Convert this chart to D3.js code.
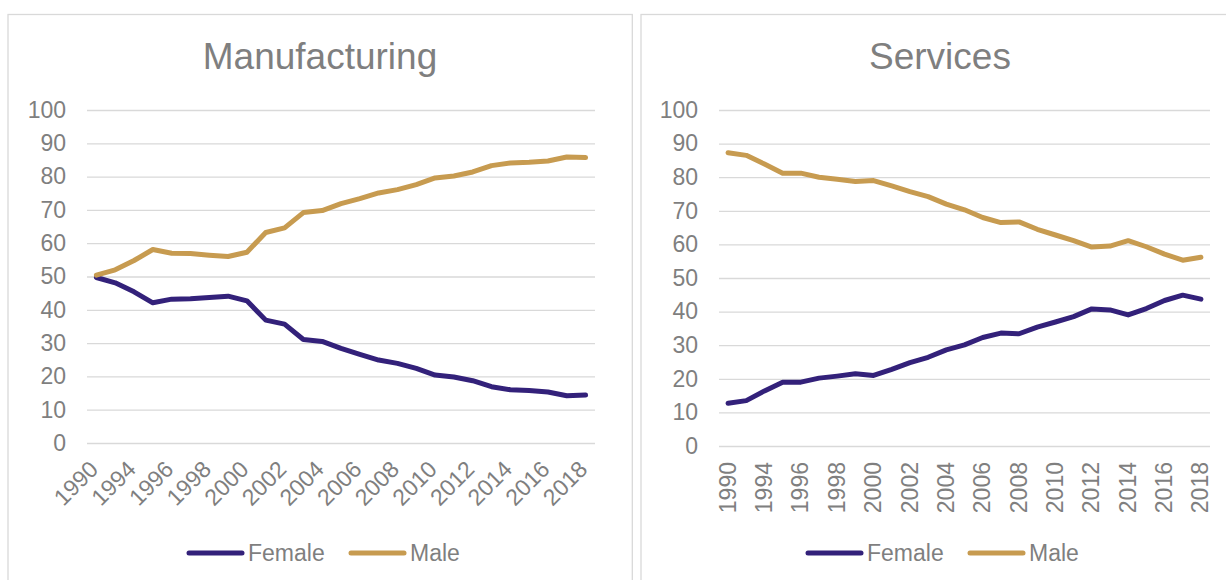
<!DOCTYPE html>
<html>
<head>
  <meta charset="utf-8">
  <title>Manufacturing and Services by gender</title>
  <style>
    body { margin: 0; background: #fff; }
    svg { display: block; font-family: "Liberation Sans", Arial, sans-serif; }
  </style>
</head>
<body>
  <svg id="canvas" width="1226" height="580"></svg>
  <script src="https://d3js.org/d3.v7.min.js"></script>
  <script>
    // categories (the second point has no visible label)
    const years = ["1990", "1992", "1994", "1995", "1996", "1997", "1998", "1999", "2000", "2001",
      "2002", "2003", "2004", "2005", "2006", "2007", "2008", "2009", "2010", "2011",
      "2012", "2013", "2014", "2015", "2016", "2017", "2018"];

    const mfgFemale = [49.7, 48.1, 45.4, 42.1, 43.2, 43.3, 43.7, 44.1, 42.7, 36.9,
      35.7, 31.1, 30.5, 28.4, 26.6, 24.9, 23.9, 22.4, 20.4, 19.8,
      18.7, 16.9, 16.0, 15.8, 15.3, 14.2, 14.4];
    const mfgMale = [50.4, 52.0, 54.8, 58.1, 57.0, 56.9, 56.4, 56.0, 57.3, 63.2,
      64.6, 69.2, 69.8, 71.9, 73.4, 75.1, 76.1, 77.6, 79.6, 80.2,
      81.4, 83.3, 84.1, 84.3, 84.7, 85.9, 85.7];

    const svcFemale = [12.7, 13.5, 16.4, 19.0, 19.0, 20.2, 20.8, 21.5, 21.0, 22.8,
      24.8, 26.4, 28.6, 30.1, 32.3, 33.6, 33.4, 35.4, 36.9, 38.5,
      40.8, 40.5, 39.0, 40.9, 43.3, 44.9, 43.7];
    const svcMale = [87.3, 86.5, 83.9, 81.2, 81.2, 80.0, 79.4, 78.7, 79.0, 77.4,
      75.7, 74.2, 72.0, 70.3, 68.0, 66.5, 66.7, 64.5, 62.8, 61.1,
      59.2, 59.5, 61.1, 59.3, 57.1, 55.3, 56.2];

    const yTicks = [0, 10, 20, 30, 40, 50, 60, 70, 80, 90, 100];
    const seriesNames = ["Female", "Male"];
    const seriesColors = ["#33217a", "#c79b50"];

    const textGray = "#7f7f7f";
    const gridGray = "#d9d9d9";

    const svg = d3.select("#canvas");

    const drawPanel = (p) => {
      const g = svg.append("g");

      g.append("rect")
        .attr("x", p.box[0]).attr("y", p.box[1])
        .attr("width", p.box[2]).attr("height", p.box[3])
        .attr("fill", "#fff").attr("stroke", gridGray).attr("stroke-width", 1.3);

      g.append("text")
        .attr("x", p.titleX).attr("y", 68.5)
        .attr("text-anchor", "middle")
        .style("font-size", "37px").style("fill", textGray)
        .text(p.title);

      const x = d3.scalePoint().domain(years).range([p.left, p.right]).padding(0.5);
      const y = d3.scaleLinear().domain([0, 100]).range([p.bottom, 110]);

      const yAxis = g.append("g")
        .attr("transform", "translate(" + p.left + ",0)")
        .call(d3.axisLeft(y).tickValues(yTicks).tickSize(-(p.right - p.left)).tickPadding(21));
      yAxis.select(".domain").remove();
      yAxis.selectAll("line").attr("stroke", gridGray).attr("stroke-width", 1.3);
      yAxis.selectAll("text").style("font-size", "23px").style("fill", textGray)
        .style("font-family", "Liberation Sans, Arial, sans-serif");

      const xAxis = g.append("g")
        .attr("transform", "translate(0," + p.bottom + ")")
        .call(d3.axisBottom(x).tickValues(years.filter((d, i) => i % 2 == 0)).tickSize(0));
      xAxis.select(".domain").remove();
      xAxis.selectAll("text")
        .attr("x", 0).attr("y", 0).attr("dy", "0.35em")
        .attr("transform", p.labelTransform)
        .style("text-anchor", "end")
        .style("font-size", "23px").style("fill", textGray)
        .style("font-family", "Liberation Sans, Arial, sans-serif");

      const line = d3.line().x((d, i) => x(years[i])).y(d => y(d));
      p.series.forEach((s, k) => {
        g.append("path")
          .datum(s)
          .attr("d", line)
          .attr("fill", "none")
          .attr("stroke", seriesColors[k])
          .attr("stroke-width", 5)
          .attr("stroke-linejoin", "round")
          .attr("stroke-linecap", "round");
      });

      // legend
      const lg = g.append("g").attr("transform", "translate(" + p.legendX + ",553)");
      const entryX = [0, 162];
      seriesNames.forEach((name, k) => {
        lg.append("line")
          .attr("x1", entryX[k]).attr("x2", entryX[k] + 53)
          .attr("y1", 0).attr("y2", 0)
          .attr("stroke", seriesColors[k]).attr("stroke-width", 5)
          .attr("stroke-linecap", "round");
        lg.append("text")
          .attr("x", entryX[k] + 59).attr("y", 8.3)
          .style("font-size", "23px").style("fill", textGray)
          .text(name);
      });
    };

    drawPanel({
      title: "Manufacturing", titleX: 320,
      box: [8, 14.5, 624.3, 600],
      left: 87, right: 595, bottom: 443,
      labelTransform: "translate(-3,22) rotate(-45)",
      series: [mfgFemale, mfgMale],
      legendX: 189
    });

    drawPanel({
      title: "Services", titleX: 940,
      box: [641, 14.5, 600, 600],
      left: 719, right: 1210, bottom: 446,
      labelTransform: "translate(-1,16) rotate(-90)",
      series: [svcFemale, svcMale],
      legendX: 808
    });
  </script>
</body>
</html>
